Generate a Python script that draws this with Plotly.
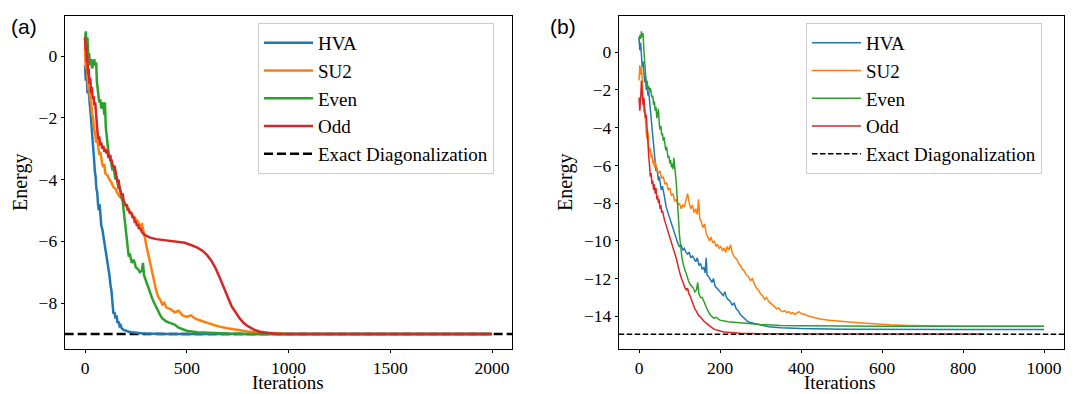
import plotly.graph_objects as go

# ---------------- data ----------------
SERIES_NAMES = ["HVA", "SU2", "Even", "Odd"]
COLORS = ["#1f77b4", "#ff7f0e", "#2ca02c", "#d62728"]
ED_NAME = "Exact Diagonalization"

ED_A = -9.0
ED_B = -14.95

XTICKS_A = [0, 500, 1000, 1500, 2000]
YTICKS_A = [0, -2, -4, -6, -8]
XTICKS_B = [0, 200, 400, 600, 800, 1000]
YTICKS_B = [0, -2, -4, -6, -8, -10, -12, -14]

# panel (a): (iteration, energy)
HVA_A = [(0,-0.3),(4,-0.8),(8,-0.5),(12,-1.2),(16,-1.0),(20,-1.5),(24,-1.6),(28,-1.9),(32,-2.2),(36,-2.6),
         (40,-3.0),(44,-3.3),(48,-3.7),(52,-3.9),(56,-4.3),(60,-4.4),(64,-4.8),(68,-5.0),(72,-4.8),(76,-5.3),
         (80,-5.5),(85,-5.6),(90,-5.8),(95,-6.0),(100,-6.2),(105,-6.4),(110,-6.6),(115,-6.8),(120,-7.1),(125,-7.4),
         (130,-7.6),(135,-8.0),(140,-8.35),(145,-8.3),(150,-8.5),(155,-8.4),(160,-8.65),(165,-8.6),(170,-8.75),(175,-8.72),
         (180,-8.82),(190,-8.87),(200,-8.9),(215,-8.93),(230,-8.95),(250,-8.97),(275,-8.98),(300,-8.99),(350,-9.0),(400,-9.0),
         (600,-9.0),(1000,-9.0),(1500,-9.0),(2000,-9.0)]
SU2_A = [(0,0.3),(4,-0.4),(8,-0.2),(12,-0.9),(16,-1.1),(20,-1.0),(25,-1.4),(30,-1.5),(35,-1.9),(40,-2.0),
         (45,-2.4),(50,-2.5),(55,-2.8),(60,-2.7),(65,-3.0),(70,-3.2),(75,-3.1),(80,-3.4),(85,-3.5),(90,-3.6),
         (95,-3.5),(100,-3.8),(110,-3.85),(120,-4.0),(130,-4.1),(140,-4.25),(150,-4.3),(160,-4.45),(170,-4.55),(180,-4.6),
         (190,-4.75),(200,-4.85),(210,-4.9),(220,-5.05),(230,-5.1),(240,-5.2),(250,-5.3),(260,-5.35),(270,-5.5),(280,-5.45),
         (290,-5.7),(295,-5.9),(300,-6.1),(310,-6.4),(320,-6.8),(330,-7.1),(340,-7.4),(350,-7.6),(360,-7.8),(370,-7.9),
         (380,-8.05),(390,-8.0),(400,-8.15),(420,-8.2),(440,-8.3),(460,-8.25),(480,-8.4),(500,-8.45),(520,-8.4),(540,-8.5),
         (560,-8.55),(580,-8.6),(600,-8.65),(650,-8.75),(700,-8.82),(750,-8.88),(800,-8.92),(850,-8.95),(900,-8.97),(1000,-9.0),
         (1500,-9.0),(2000,-9.0)]
EVEN_A = [(0,0.5),(4,0.8),(8,0.3),(12,0.6),(16,0.0),(20,0.1),(25,-0.3),(30,-0.1),(35,-0.4),(40,-0.2),
          (45,-0.1),(50,-0.3),(55,-0.2),(58,-0.8),(62,-1.0),(66,-1.3),(70,-1.5),(75,-1.4),(80,-1.7),(85,-1.5),
          (90,-1.6),(95,-1.9),(98,-1.5),(102,-2.3),(106,-2.6),(110,-2.8),(115,-3.1),(120,-3.3),(125,-3.2),(130,-3.5),
          (135,-3.7),(140,-3.6),(145,-3.9),(150,-4.0),(155,-3.9),(160,-4.2),(165,-4.3),(170,-4.2),(175,-4.5),(180,-4.6),
          (185,-4.7),(190,-5.0),(195,-5.3),(200,-5.6),(205,-6.0),(210,-6.3),(215,-6.5),(220,-6.4),(230,-6.7),(240,-6.6),
          (250,-6.85),(260,-6.9),(270,-7.0),(280,-6.95),(285,-6.7),(290,-7.1),(300,-7.3),(310,-7.5),(320,-7.7),(330,-7.85),
          (340,-8.0),(350,-8.15),(360,-8.3),(370,-8.4),(380,-8.5),(390,-8.55),(400,-8.6),(420,-8.65),(440,-8.7),(460,-8.8),
          (480,-8.85),(500,-8.9),(550,-8.95),(600,-8.97),(700,-8.99),(800,-9.0),(1000,-9.0),(1500,-9.0),(2000,-9.0)]
ODD_A = [(0,0.6),(3,0.2),(6,0.4),(9,-0.2),(12,0.0),(15,-0.6),(18,-0.4),(22,-0.9),(26,-0.7),(30,-1.2),
         (34,-1.0),(38,-1.4),(42,-1.3),(46,-1.6),(50,-1.5),(54,-1.9),(58,-2.2),(62,-2.5),(66,-2.7),(70,-2.6),
         (75,-2.9),(80,-2.8),(85,-3.0),(90,-2.9),(95,-3.1),(100,-3.0),(105,-3.15),(110,-3.05),(115,-3.3),(120,-3.2),
         (125,-3.4),(130,-3.35),(135,-3.5),(140,-3.6),(145,-3.55),(150,-3.8),(155,-3.9),(160,-4.1),(165,-4.0),(170,-4.3),
         (175,-4.4),(180,-4.5),(185,-4.45),(190,-4.7),(195,-4.75),(200,-4.85),(205,-4.8),(210,-5.0),(215,-4.95),(220,-5.1),
         (225,-5.05),(230,-5.2),(235,-5.25),(240,-5.2),(245,-5.4),(250,-5.35),(255,-5.5),(260,-5.45),(265,-5.6),(270,-5.55),
         (275,-5.65),(280,-5.7),(290,-5.78),(300,-5.82),(320,-5.88),(350,-5.93),(400,-5.97),(450,-6.0),(490,-6.05),(520,-6.12),
         (550,-6.2),(580,-6.32),(600,-6.45),(620,-6.62),(640,-6.85),(660,-7.15),(680,-7.45),(700,-7.8),(720,-8.1),(740,-8.3),
         (760,-8.5),(780,-8.65),(800,-8.75),(830,-8.86),(860,-8.93),(900,-8.97),(950,-9.0),(1000,-9.0),(1500,-9.0),(2000,-9.0)]

# panel (b)
HVA_B = [(0,0.8),(2,0.1),(4,0.5),(6,-0.2),(8,-0.8),(10,-0.5),(12,-1.3),(14,-1.6),(16,-1.3),(18,-2.0),
         (20,-1.6),(22,-2.3),(24,-2.1),(26,-2.6),(28,-2.9),(30,-3.3),(32,-3.8),(34,-4.4),(36,-5.0),(38,-5.6),
         (40,-5.9),(42,-6.3),(44,-6.1),(46,-6.6),(48,-6.8),(50,-6.6),(52,-7.0),(55,-7.3),(58,-7.1),(61,-7.6),
         (64,-7.8),(67,-8.2),(70,-8.4),(73,-8.7),(76,-8.9),(79,-9.1),(82,-9.3),(85,-9.5),(88,-9.6),(91,-9.9),
         (94,-10.0),(97,-10.2),(100,-10.3),(104,-10.2),(108,-10.5),(112,-10.4),(116,-10.6),(120,-10.7),(124,-10.6),(128,-10.9),
         (132,-10.8),(136,-11.0),(140,-11.1),(144,-10.9),(148,-11.3),(152,-11.2),(156,-11.5),(160,-11.4),(163,-11.7),(166,-10.9),
         (168,-11.8),(172,-11.9),(176,-12.1),(180,-12.2),(184,-12.0),(188,-12.4),(192,-12.5),(196,-12.6),(200,-12.7),(204,-12.8),
         (208,-12.9),(212,-12.7),(216,-13.0),(220,-13.1),(225,-13.2),(230,-13.4),(235,-13.3),(240,-13.6),(245,-13.7),(250,-13.9),
         (255,-14.0),(260,-14.15),(265,-14.2),(270,-14.3),(280,-14.35),(290,-14.4),(300,-14.45),(320,-14.55),(350,-14.6),(400,-14.65),
         (500,-14.68),(600,-14.7),(800,-14.7),(1000,-14.7)]
SU2_B = [(0,-1.5),(2,-0.7),(4,-1.2),(6,-0.8),(8,-1.5),(10,-2.5),(12,-3.2),(14,-3.0),(16,-3.8),(18,-4.3),
         (20,-4.6),(22,-4.2),(24,-5.0),(26,-5.3),(28,-5.1),(30,-5.6),(32,-5.4),(34,-5.9),(36,-5.7),(38,-6.1),
         (40,-5.8),(44,-6.2),(48,-6.4),(52,-6.3),(56,-6.7),(60,-6.6),(64,-7.0),(68,-6.9),(72,-7.3),(76,-7.2),
         (80,-7.6),(84,-7.5),(88,-7.9),(92,-7.8),(96,-8.1),(100,-8.0),(104,-8.3),(108,-8.1),(112,-8.2),(116,-7.9),
         (120,-7.5),(124,-8.0),(128,-8.3),(132,-8.1),(136,-8.5),(140,-8.3),(144,-8.6),(147,-7.8),(150,-8.8),(154,-9.0),
         (158,-9.3),(162,-9.1),(166,-9.6),(170,-9.8),(174,-10.0),(178,-9.8),(182,-10.1),(186,-10.0),(190,-10.3),(194,-10.2),
         (198,-10.4),(202,-10.3),(206,-10.5),(210,-10.4),(214,-10.6),(218,-10.3),(222,-10.5),(226,-10.2),(230,-10.6),(234,-10.8),
         (238,-10.9),(242,-11.0),(246,-11.2),(250,-11.3),(255,-11.5),(260,-11.6),(265,-11.8),(270,-11.9),(275,-12.1),(280,-12.0),
         (285,-12.3),(290,-12.5),(295,-12.6),(300,-12.8),(305,-12.9),(310,-13.1),(315,-13.0),(320,-13.2),(325,-13.3),(330,-13.4),
         (335,-13.5),(340,-13.6),(345,-13.55),(350,-13.7),(355,-13.75),(360,-13.7),(365,-13.8),(370,-13.75),(375,-13.85),(380,-13.8),
         (385,-13.9),(390,-13.8),(395,-13.75),(400,-13.85),(410,-13.9),(420,-14.0),(430,-14.05),(440,-14.1),(450,-14.15),(470,-14.2),
         (490,-14.25),(520,-14.3),(550,-14.35),(580,-14.4),(620,-14.45),(660,-14.48),(700,-14.5),(800,-14.52),(1000,-14.53)]
EVEN_B = [(0,0.6),(2,0.9),(4,0.7),(6,1.1),(8,0.8),(10,1.0),(12,0.1),(14,-0.6),(16,-1.2),(18,-1.7),
          (20,-1.5),(22,-2.0),(24,-1.8),(26,-2.1),(28,-1.9),(30,-2.2),(32,-2.4),(34,-2.3),(36,-2.8),(38,-2.6),
          (40,-3.1),(42,-2.9),(44,-3.5),(46,-3.3),(48,-3.0),(50,-3.8),(52,-4.1),(54,-3.9),(56,-4.4),(58,-4.3),
          (60,-4.7),(62,-4.5),(64,-5.0),(66,-5.2),(68,-5.0),(70,-5.4),(72,-5.6),(74,-5.5),(76,-5.9),(78,-5.7),
          (80,-6.1),(82,-5.9),(84,-6.2),(86,-5.6),(88,-6.0),(90,-6.3),(92,-6.9),(94,-7.6),(96,-8.4),(98,-9.1),
          (100,-9.7),(103,-10.3),(106,-10.9),(110,-11.3),(114,-11.6),(118,-11.9),(122,-12.1),(126,-12.3),(130,-12.4),(134,-12.5),
          (138,-12.7),(142,-12.6),(145,-12.2),(148,-12.8),(152,-13.0),(156,-13.0),(160,-13.2),(165,-13.5),(170,-13.7),(175,-13.9),
          (180,-14.0),(185,-14.1),(190,-14.05),(195,-14.15),(200,-14.2),(220,-14.28),(250,-14.35),(300,-14.43),(350,-14.48),(400,-14.5),
          (600,-14.52),(1000,-14.52)]
ODD_B = [(0,-2.4),(2,-3.1),(4,-2.5),(6,-1.5),(8,-2.2),(10,-2.8),(12,-2.4),(14,-3.1),(16,-3.5),(18,-3.3),
         (20,-4.2),(22,-4.8),(24,-5.5),(26,-6.0),(28,-6.6),(30,-6.4),(32,-7.0),(34,-6.8),(36,-7.3),(38,-7.0),
         (40,-7.5),(42,-7.2),(44,-7.8),(46,-7.6),(48,-8.0),(50,-7.8),(52,-8.3),(54,-8.1),(56,-8.5),(58,-8.4),
         (60,-8.7),(63,-8.9),(66,-9.1),(69,-9.3),(72,-9.5),(75,-9.7),(78,-9.9),(81,-10.1),(84,-10.3),(87,-10.6),
         (90,-10.8),(93,-11.0),(96,-11.3),(99,-11.6),(102,-11.8),(105,-12.0),(108,-12.2),(111,-12.4),(114,-12.5),(117,-12.6),
         (120,-12.5),(123,-12.8),(126,-12.9),(129,-13.1),(132,-13.3),(135,-13.4),(138,-13.6),(141,-13.7),(144,-13.85),(147,-13.95),
         (150,-14.0),(155,-14.15),(160,-14.25),(165,-14.35),(170,-14.45),(175,-14.55),(180,-14.6),(185,-14.68),(190,-14.72),(200,-14.78),
         (210,-14.83),(225,-14.87),(250,-14.9),(300,-14.92),(400,-14.93),(600,-14.93),(850,-14.93)]

PANEL_A = [HVA_A, SU2_A, EVEN_A, ODD_A]
PANEL_B = [HVA_B, SU2_B, EVEN_B, ODD_B]

# ---------------- figure ----------------
# the page body has an 8px margin, so the figure is drawn 8px smaller and
# all positions below are page pixels converted to figure paper coordinates
OFF = 8
W, H = 1075 - OFF, 394 - OFF
SERIF = "Liberation Serif"

def px(x):
    return (x - OFF) / W

def py(y):
    return (H - (y - OFF)) / H

fig = go.Figure()

def add_panel(series, xa, ya, leg, lw, dash):
    for name, color, pts in zip(SERIES_NAMES, COLORS, series):
        fig.add_trace(go.Scatter(
            x=[p[0] for p in pts], y=[p[1] for p in pts], mode="lines", name=name,
            line=dict(color=color, width=lw), xaxis=xa, yaxis=ya, legend=leg,
            hoverinfo="skip"))
    fig.add_trace(go.Scatter(
        x=[None], y=[None], mode="lines", name=ED_NAME,
        line=dict(color="black", width=lw, dash=dash), xaxis=xa, yaxis=ya, legend=leg))

add_panel(PANEL_A, "x", "y", "legend", 2.5, "9px,4px")
add_panel(PANEL_B, "x2", "y2", "legend2", 1.5, "5.5px,2.5px")

fig.add_shape(type="line", xref="x domain", yref="y", x0=0, x1=1, y0=ED_A, y1=ED_A,
              line=dict(color="black", width=2.5, dash="9px,4px"), layer="below")
fig.add_shape(type="line", xref="x2 domain", yref="y2", x0=0, x1=1, y0=ED_B, y1=ED_B,
              line=dict(color="black", width=1.5, dash="5.5px,2.5px"), layer="above")

axis_common = dict(showline=True, mirror=True, linecolor="black", linewidth=1,
                   ticks="outside", ticklen=3, tickwidth=1, tickcolor="black",
                   showgrid=False, zeroline=False,
                   tickfont=dict(family=SERIF, size=17.5, color="black"))
YDOM = [py(349), py(16.3)]

legend_common = dict(xanchor="left", yanchor="top", bgcolor="white", bordercolor="#cccccc",
                     borderwidth=1, font=dict(family=SERIF, size=19, color="black"), itemwidth=49)

fig.update_layout(
    width=W, height=H, margin=dict(l=0, r=0, t=0, b=0),
    paper_bgcolor="white", plot_bgcolor="white", showlegend=True,
    xaxis=dict(domain=[px(64.65), px(512.4)], range=[-100, 2100], tickvals=XTICKS_A, anchor="y", **axis_common),
    yaxis=dict(domain=YDOM, range=[-9.49, 1.29], tickvals=YTICKS_A, anchor="x", **axis_common),
    xaxis2=dict(domain=[px(618.75), px(1064.25)], range=[-50, 1050], tickvals=XTICKS_B, anchor="y2", **axis_common),
    yaxis2=dict(domain=YDOM, range=[-15.73, 1.90], tickvals=YTICKS_B, anchor="x2", **axis_common),
    legend=dict(x=px(258), y=py(23), **legend_common),
    legend2=dict(x=px(806), y=py(23), **legend_common),
)

title_font = dict(family=SERIF, size=19, color="black")
for xc in [288, 840]:
    fig.add_annotation(text="Iterations", xref="paper", yref="paper", x=px(xc), y=0,
                       showarrow=False, font=title_font, xanchor="center", yanchor="bottom",
                       borderpad=0)
for xc in [21, 566]:
    fig.add_annotation(text="Energy", xref="paper", yref="paper", x=px(xc), y=py(183),
                       showarrow=False, font=dict(family=SERIF, size=20, color="black"),
                       textangle=-90, xanchor="center", yanchor="middle")
for txt, xc in [("(a)", 24), ("(b)", 563)]:
    fig.add_annotation(text=txt, xref="paper", yref="paper", x=px(xc), y=py(26),
                       showarrow=False, font=dict(family="Liberation Sans", size=21, color="black"),
                       xanchor="center", yanchor="middle")

fig.write_html("out.html")
